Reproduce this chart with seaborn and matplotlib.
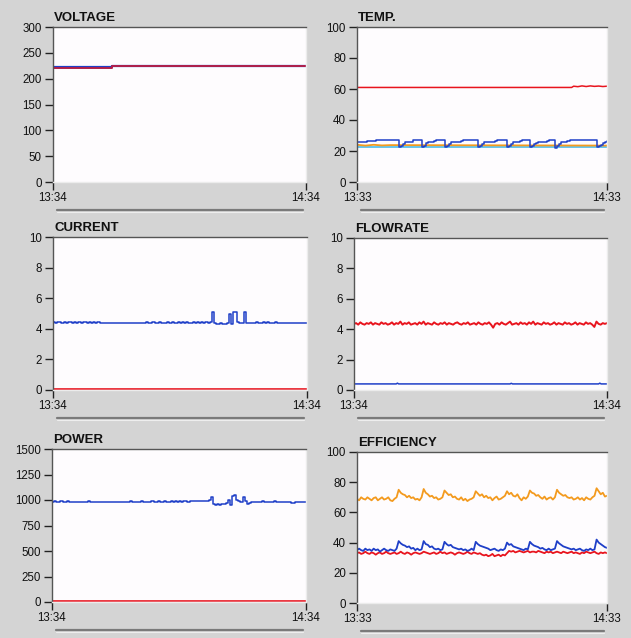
import numpy as np
import matplotlib
matplotlib.use('Agg')
import matplotlib.pyplot as plt
from matplotlib.lines import Line2D
import seaborn as sns

# ---- data (minutes from start of the window) ----
x_labels_left = ['13:34', '14:34']
x_labels_right_top = ['13:33', '14:33']
x_labels_right_mid = ['13:34', '14:34']
x_labels_right_bot = ['13:33', '14:33']

volt_time = [0, 14, 14, 60]
volt_blue = [222, 222, 224.5, 224.5]
volt_red = [220, 220, 224, 224]

temp_blue = [26, 26, 26, 26, 26, 26.5, 26.5, 26.5, 26.5,
             27, 27, 27, 27, 27, 27, 27, 27, 27, 27, 27,
             22.5, 23, 24.5, 25.5, 26, 26, 26, 27, 27, 27, 27,
             22.5, 23.5, 25, 25.5, 26, 26, 26.5, 27, 27, 27, 27,
             22.5, 23, 24.5, 25.5, 26, 26, 26, 26, 26.5, 27, 27, 27, 27, 27, 27, 27,
             22.5, 23, 24.5, 25.5, 26, 26, 26, 26, 26.5, 27, 27, 27, 27, 27,
             22.5, 23.5, 24.5, 25.5, 26, 26, 26.5, 27, 27, 27, 27,
             22.5, 23.5, 24.5, 25, 25.5, 26, 26, 26, 26.5, 27, 27, 27,
             22, 23, 24.5, 25.5, 26, 26, 26.5, 27, 27, 27, 27, 27, 27, 27, 27, 27, 27, 27, 27, 27,
             22.5, 23, 24, 25, 26, 26.5]
temp_orange_time = [0, 2, 4, 6, 8, 60]
temp_orange = [24, 23.5, 24, 23.6, 23.8, 23.5]
temp_cyan_time = [0, 60]
temp_cyan = [22.3, 22.3]
temp_red_time = [0, 51.5, 52, 53, 54, 55, 56, 57, 58, 59, 60]
temp_red = [61, 61, 61.8, 61.5, 62, 61.6, 62, 61.7, 61.9, 61.6, 61.8]

current_blue = [4.45, 4.4, 4.45, 4.45, 4.4, 4.45, 4.4, 4.45, 4.45, 4.4, 4.45, 4.4, 4.45, 4.4, 4.45, 4.45, 4.4, 4.45, 4.4, 4.45,
                4.4, 4.45, 4.4, 4.4, 4.4, 4.4, 4.4, 4.35, 4.4, 4.4, 4.4, 4.4, 4.4, 4.4, 4.4, 4.4, 4.4, 4.4, 4.4, 4.4,
                4.4, 4.4, 4.4, 4.4, 4.45, 4.4, 4.4, 4.45, 4.4, 4.4, 4.45, 4.4, 4.4, 4.4, 4.45, 4.4, 4.45, 4.4, 4.4, 4.45,
                4.4, 4.45, 4.4, 4.45, 4.4, 4.4, 4.45, 4.4, 4.45, 4.4, 4.45, 4.4, 4.45, 4.4, 4.45, 5.1, 4.35, 4.3, 4.3, 4.35,
                4.3, 4.3, 4.35, 4.95, 4.3, 5.1, 5.1, 4.45, 4.4, 4.35, 5.1, 4.4, 4.35, 4.4, 4.4, 4.4, 4.45, 4.4, 4.4, 4.45,
                4.4, 4.45, 4.4, 4.4, 4.4, 4.45, 4.4, 4.4, 4.4, 4.4, 4.4, 4.4, 4.4, 4.4, 4.4, 4.4, 4.4, 4.4, 4.4, 4.4,
                4.4]
current_red_time = [0, 60]
current_red = [0.05, 0.05]

flow_red = [4.35, 4.4, 4.3, 4.45, 4.35, 4.3, 4.4, 4.35, 4.45, 4.3, 4.4, 4.35, 4.3, 4.45, 4.35, 4.4, 4.3, 4.35, 4.45, 4.3,
            4.4, 4.35, 4.5, 4.3, 4.4, 4.35, 4.45, 4.3, 4.35, 4.4, 4.3, 4.45, 4.35, 4.5, 4.3, 4.4, 4.35, 4.3, 4.45, 4.35,
            4.3, 4.4, 4.35, 4.45, 4.3, 4.4, 4.35, 4.3, 4.4, 4.45, 4.35, 4.3, 4.4, 4.35, 4.45, 4.3, 4.35, 4.4, 4.3, 4.45,
            4.35, 4.3, 4.4, 4.35, 4.45, 4.3, 4.1, 4.35, 4.4, 4.3, 4.45, 4.35, 4.3, 4.4, 4.5, 4.3, 4.35, 4.4, 4.3, 4.45,
            4.35, 4.4, 4.3, 4.45, 4.35, 4.5, 4.3, 4.4, 4.35, 4.3, 4.45, 4.35, 4.4, 4.3, 4.35, 4.45, 4.3, 4.4, 4.35, 4.3,
            4.45, 4.35, 4.4, 4.3, 4.35, 4.45, 4.3, 4.4, 4.35, 4.3, 4.45, 4.35, 4.4, 4.3, 4.15, 4.5, 4.35, 4.3, 4.4, 4.35,
            4.4]
flow_blue_time = [0, 10, 10.3, 10.6, 37, 37.3, 37.6, 58, 58.3, 58.6, 60]
flow_blue = [0.4, 0.4, 0.45, 0.4, 0.4, 0.44, 0.4, 0.4, 0.45, 0.4, 0.4]

power_blue = [985, 990, 985, 985, 990, 985, 985, 990, 985, 985, 985, 985, 985, 985, 985, 985, 985, 990, 985, 985,
              985, 985, 985, 985, 985, 985, 985, 985, 985, 985, 985, 985, 980, 985, 985, 985, 985, 990, 985, 985,
              985, 985, 990, 985, 985, 985, 985, 990, 985, 985, 990, 985, 985, 990, 985, 985, 990, 985, 990, 985,
              990, 985, 990, 990, 985, 990, 995, 990, 990, 995, 990, 995, 990, 995, 1000, 1030, 965, 955, 960, 955,
              965, 960, 975, 1000, 950, 1040, 1050, 1000, 990, 985, 1025, 990, 965, 975, 980, 980, 985, 980, 985, 990,
              985, 985, 985, 980, 985, 990, 985, 985, 985, 985, 985, 985, 980, 975, 975, 980, 985, 985, 985, 985,
              985]
power_red_time = [0, 60]
power_red = [10, 10]

eff_orange = [69, 68, 70, 69, 68.5, 70, 69, 68, 69.5, 70, 68, 69, 70, 68.5, 69, 70, 68, 67.5, 69, 70,
              75, 73, 72, 71.5, 70, 71, 69.5, 70, 68.5, 69, 68, 70,
              75.5, 73, 72, 70.5, 71, 69.5, 70, 68.5, 69, 70,
              74.5, 73, 71.5, 72, 70, 70.5, 69, 68.5, 70, 68, 69, 67.5, 68.5, 69, 70,
              74, 72.5, 71, 72, 70, 71, 69.5, 70, 68, 69.5, 70.5, 68.5, 69, 70, 71,
              74, 72, 73, 71, 70.5, 72, 69.5, 68, 70, 69, 70.5,
              74.5, 73, 72.5, 71, 71.5, 70, 69, 70.5, 68.5, 69.5, 70, 68.5, 70,
              75, 73, 72, 71, 71.5, 70, 69.5, 70, 68.5, 69, 70, 68.5, 69.5, 68, 70, 69, 68.5, 70, 71,
              76, 74, 72, 73, 70.5, 71]
eff_blue = [35, 36, 35, 34.5, 36, 35, 35.5, 34.5, 36, 35, 35.5, 34, 35, 36, 35, 34.5, 35.5, 35, 34.5, 36,
            41, 39.5, 38.5, 38, 37, 37.5, 36, 36.5, 35, 36, 35, 35.5,
            41, 39, 38.5, 37, 37.5, 36, 35.5, 36, 35, 35.5,
            40.5, 39, 38, 38.5, 37, 36.5, 36, 35.5, 36, 35, 35.5, 34.5, 35, 36, 35,
            40.5, 39, 38, 37.5, 37, 36.5, 36, 35, 35.5, 36, 35, 34.5, 35.5, 35, 36,
            40, 38.5, 39, 37.5, 37, 36.5, 36, 35.5, 35, 36, 35.5,
            40.5, 39, 38, 37.5, 37, 36, 36.5, 35.5, 35, 36, 35, 35.5, 36,
            41, 39.5, 38.5, 37.5, 37, 36.5, 36, 35.5, 36, 35, 35.5, 36, 35, 34.5, 35.5, 35, 36, 35, 35.5,
            42, 40, 39, 38, 37, 36.5]
eff_red = [33, 33.5, 32.5, 33, 34, 33, 32.5, 33.5, 33, 32, 33, 33.5, 32.5, 33, 34, 33, 32.5, 33, 33.5, 32.5,
           33, 34, 33, 32.5, 33.5, 33, 32, 33, 33.5, 33, 32.5, 33, 34, 33.5, 33, 32.5, 33, 33.5, 32.5, 33,
           34, 33, 33.5, 32.5, 33, 33.5, 33, 32, 33, 33.5, 33, 32.5, 33, 34, 33, 32.5, 33.5, 33, 32.5, 33,
           32, 31.5, 32, 31, 31.5, 32.5, 31, 31.5, 32, 31, 32, 31.5, 33,
           34.5, 34, 34.5, 33.5, 34, 34.5, 34, 33.5, 34, 34.5, 33.5, 34, 34, 33.5, 34.5, 34, 33.5, 33, 34, 33.5,
           34, 33, 33.5, 34, 33.5, 33, 34, 33.5, 33, 33.5, 34, 33, 33.5, 33, 32.5, 33.5, 33, 34, 33.5, 33,
           33.5, 34, 33, 32.5, 33.5, 33, 33.5, 33]

# ---- style ----
sns.set_style('white')
plt.rcParams['font.family'] = ['Liberation Sans', 'DejaVu Sans']

BG = '#d4d4d4'
FACE = '#fefcfe'
BLUE = '#1f3fc8'
RED = '#e8141e'
ORANGE = '#f39a1e'
CYAN = '#39b6ea'

W, H = 631, 638
fig = plt.figure(figsize=(W / 100, H / 100), dpi=100, facecolor=BG)


def grid_time(series):
    return np.linspace(0, 60, len(series))


def panel(box, title, ymax, ystep, xlabels):
    x0, y0, x1, y1 = box
    ax = fig.add_axes([x0 / W, 1 - y1 / H, (x1 - x0) / W, (y1 - y0) / H])
    ax.set_facecolor(FACE)
    ax.set_xlim(0, 60)
    ax.set_ylim(0, ymax)
    ax.set_yticks(np.arange(0, ymax + 1, ystep))
    ax.set_xticks([0, 60])
    ax.set_xticklabels(xlabels)
    ax.tick_params(axis='both', direction='out', length=6, width=1, color='#222222',
                   labelsize=8.3, labelcolor='#111111', left=True, bottom=True)
    ax.tick_params(axis='y', pad=2)
    ax.tick_params(axis='x', pad=1)
    for side in ['left', 'top']:
        ax.spines[side].set_color('#555555')
        ax.spines[side].set_linewidth(1)
    for side in ['right', 'bottom']:
        ax.spines[side].set_color('#ececec')
        ax.spines[side].set_linewidth(1)
    ax.set_xlabel('')
    ax.set_ylabel('')
    ax.text(0.005, 1.02, title, transform=ax.transAxes, ha='left', va='bottom',
            fontsize=9.5, fontweight='bold', color='#111111')
    # scroll bar under the time axis
    sy = 1 - (y1 + 28) / H
    fig.add_artist(Line2D([(x0 + 4) / W, (x1 - 3) / W], [sy, sy], transform=fig.transFigure,
                          color='#7a7a7a', linewidth=1.6))
    fig.add_artist(Line2D([(x0 + 4) / W, (x1 - 3) / W], [sy - 2 / H, sy - 2 / H], transform=fig.transFigure,
                          color='#eeeeee', linewidth=0.8))
    return ax


def line(ax, t, v, color, lw=1.2, steps=False):
    kw = {'drawstyle': 'steps-post'} if steps else {}
    sns.lineplot(x=list(t), y=list(v), ax=ax, color=color, linewidth=lw,
                 estimator=None, sort=False, **kw)


ax = panel((53, 27, 306, 182), 'VOLTAGE', 300, 50, x_labels_left)
line(ax, volt_time, volt_blue, BLUE, 1.6)
line(ax, volt_time, volt_red, '#b0204a', 1.4)

ax = panel((357, 27, 607, 182), 'TEMP.', 100, 20, x_labels_right_top)
line(ax, temp_red_time, temp_red, RED, 1.1)
line(ax, temp_cyan_time, temp_cyan, CYAN, 1.1)
line(ax, temp_orange_time, temp_orange, ORANGE, 1.3)
line(ax, grid_time(temp_blue), temp_blue, BLUE, 1.1, steps=True)

ax = panel((53, 237, 307, 390), 'CURRENT', 10, 2, x_labels_left)
line(ax, current_red_time, current_red, RED, 1.2)
line(ax, grid_time(current_blue), current_blue, BLUE, 1.1, steps=True)

ax = panel((354, 238, 607, 390), 'FLOWRATE', 10, 2, x_labels_right_mid)
line(ax, flow_blue_time, flow_blue, BLUE, 1.1)
line(ax, grid_time(flow_red), flow_red, RED, 1.4)

ax = panel((52, 449, 306, 602), 'POWER', 1500, 250, x_labels_left)
line(ax, power_red_time, power_red, RED, 1.2)
line(ax, grid_time(power_blue), power_blue, BLUE, 1.1, steps=True)

ax = panel((357, 452, 607, 603), 'EFFICIENCY', 100, 20, x_labels_right_bot)
line(ax, grid_time(eff_orange), eff_orange, ORANGE, 1.3)
line(ax, grid_time(eff_red), eff_red, RED, 1.3)
line(ax, grid_time(eff_blue), eff_blue, BLUE, 1.3)

fig.savefig('out.png', dpi=100, facecolor=BG)
